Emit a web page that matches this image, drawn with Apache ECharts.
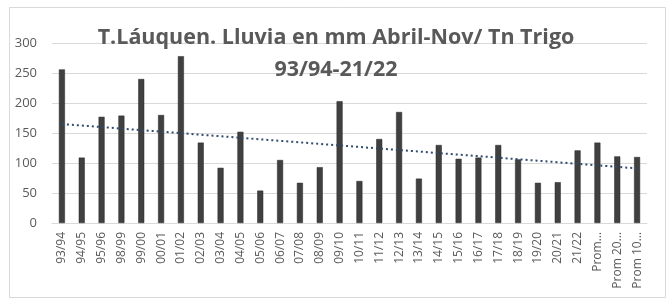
<!DOCTYPE html>
<html>
<head>
<meta charset="utf-8">
<script src="https://cdn.jsdelivr.net/npm/echarts@6/dist/echarts.min.js"></script>
<style>html,body{margin:0;padding:0;background:#fff}#c{width:672px;height:304px}</style>
</head>
<body>
<div id="c"></div>
<script>
const categories = ['93/94','94/95','95/96','98/99','99/00','00/01','01/02','02/03','03/04','04/05','05/06','06/07','07/08','08/09','09/10','10/11','11/12','12/13','13/14','14/15','15/16','16/17','17/18','18/19','19/20','20/21','21/22','Prom…','Prom 20…','Prom 10…'];
const rain = [256,109,177,179,240,180,278,134,92,152,54,105,67,93,203,70,140,185,74,130,107,109,130,106,67,68,121,134,111,110];
const trendEnds = [165, 91];
const yTicks = {min: 0, max: 300, interval: 50};

const trendData = [[0, trendEnds[0]], [categories.length - 1, trendEnds[1]]];

const chart = echarts.init(document.getElementById('c'), null, {renderer: 'canvas'});
chart.setOption({
  backgroundColor: '#fff',
  animation: false,
  graphic: [{
    type: 'rect', left: 7, top: 5, shape: {width: 656, height: 290},
    style: {fill: 'none', stroke: '#d9d9d9', lineWidth: 1}, silent: true
  }],
  title: {
    text: 'T.Láuquen. Lluvia en mm Abril-Nov/ Tn Trigo\n93/94-21/22',
    left: 'center', top: 17,
    textStyle: {fontFamily: 'Open Sans', fontWeight: 'bold', fontSize: 21.5, color: '#595959', lineHeight: 32}
  },
  grid: {left: 52, right: 25, top: 43, bottom: 81},
  xAxis: {
    type: 'category', data: categories,
    axisLine: {lineStyle: {color: '#d9d9d9'}},
    axisTick: {show: false},
    axisLabel: {rotate: 90, interval: 0, margin: 9, color: '#595959', fontFamily: 'Open Sans', fontSize: 12}
  },
  yAxis: {
    type: 'value', min: yTicks.min, max: yTicks.max, interval: yTicks.interval,
    axisLine: {show: false}, axisTick: {show: false},
    splitLine: {lineStyle: {color: '#d9d9d9'}},
    axisLabel: {margin: 15, color: '#595959', fontFamily: 'Open Sans', fontSize: 13}
  },
  series: [{
    type: 'bar', data: rain, barWidth: 6,
    itemStyle: {color: '#404040', borderColor: '#262626', borderWidth: 0.5}
  }, {
    type: 'line', data: trendData, symbol: 'none',
    lineStyle: {color: '#2f4b6e', width: 2, type: [2, 3]}
  }]
});
</script>
</body>
</html>
